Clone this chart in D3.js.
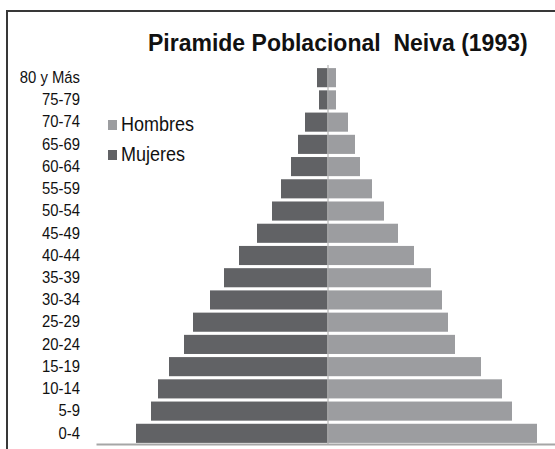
<!DOCTYPE html>
<html>
<head>
<meta charset="utf-8">
<script src="https://cdn.jsdelivr.net/npm/d3@7"></script>
<style>
  body { margin: 0; background: #fff; }
  svg { display: block; font-family: "Liberation Sans", Arial, sans-serif; }
</style>
</head>
<body>
<svg id="chart"></svg>
<script>
// age groups, top to bottom
var ageGroups = ["80 y Más","75-79","70-74","65-69","60-64","55-59","50-54","45-49","40-44",
                 "35-39","30-34","25-29","20-24","15-19","10-14","5-9","0-4"];
// population (persons)
var hombres = [900, 900, 2100, 2800, 3300, 4500, 5700, 7100, 8700,
               10400, 11500, 12100, 12800, 15400, 17500, 18500, 21000];
var mujeres = [1000, 800, 2200, 2900, 3600, 4600, 5500, 7000, 8800,
               10300, 11700, 13400, 14300, 15800, 16900, 17600, 19100];
var seriesNames = ["Hombres", "Mujeres"];
var seriesColors = ["#9c9da0", "#616265"];
var title = "Piramide Poblacional  Neiva (1993)";

var width = 555, height = 449;

var svg = d3.select("#chart")
  .attr("width", width)
  .attr("height", height);

// outer frame (cut off at right and bottom)
svg.append("rect")
  .attr("x", 7).attr("y", 11)
  .attr("width", 700).attr("height", 600)
  .attr("fill", "none")
  .attr("stroke", "#383838")
  .attr("stroke-width", 2);

var data = ageGroups.map(function(g, i){
  return { group: g, h: hombres[i], m: mujeres[i] };
});

var x = d3.scaleLinear()
  .domain([-23100, 22800])
  .range([96, 555]);

var y = d3.scaleBand()
  .domain(ageGroups)
  .range([65, 446])
  .padding(0.14);

// bars
var bars = svg.append("g").attr("class","bars");

bars.selectAll("rect.m")
  .data(data)
  .enter()
  .append("rect")
  .attr("class","m")
  .attr("x", function(d){ return x(-d.m); })
  .attr("y", function(d){ return y(d.group); })
  .attr("width", function(d){ return x(0) - x(-d.m); })
  .attr("height", y.bandwidth())
  .attr("fill", seriesColors[1]);

bars.selectAll("rect.h")
  .data(data)
  .enter()
  .append("rect")
  .attr("class","h")
  .attr("x", x(0))
  .attr("y", function(d){ return y(d.group); })
  .attr("width", function(d){ return x(d.h) - x(0); })
  .attr("height", y.bandwidth())
  .attr("fill", seriesColors[0]);

// vertical centre line
svg.append("line")
  .attr("x1", x(0) + 1).attr("x2", x(0) + 1)
  .attr("y1", y.range()[0]).attr("y2", y.range()[1] - 2)
  .attr("stroke", "#a6a6a6")
  .attr("stroke-width", 1);

// bottom axis line only
var xaxis = d3.axisBottom(x).tickValues([]).tickSizeOuter(0);
svg.append("g")
  .attr("class","axis")
  .attr("transform","translate(0," + 444 + ")")
  .call(xaxis)
  .select(".domain")
  .attr("stroke", "#a6a6a6")
  .attr("stroke-width", 2);

// category labels (slightly condensed like the source)
var yaxis = d3.axisLeft(y).tickSize(0).tickPadding(0);
var yg = svg.append("g")
  .attr("class","axis")
  .attr("transform","translate(80,0) scale(0.9,1)")
  .call(yaxis);
yg.select(".domain").remove();
yg.selectAll("text")
  .attr("font-size", 16.5)
  .attr("font-family", "'Liberation Sans', Arial, sans-serif")
  .attr("fill", "#111");

// legend
var legend = svg.append("g")
  .attr("class","legend")
  .selectAll("g")
  .data(seriesNames)
  .enter()
  .append("g")
  .attr("transform", function(d, i){ return "translate(108," + (120 + i*30) + ")"; });

legend.append("rect")
  .attr("width", 9).attr("height", 10)
  .attr("fill", function(d, i){ return seriesColors[i]; });

legend.append("text")
  .attr("transform", "translate(13,11) scale(0.9,1)")
  .attr("font-size", 20)
  .attr("fill", "#111")
  .text(function(d){ return d; });

// title (keep the double space)
svg.append("text")
  .attr("x", 148)
  .attr("y", 51)
  .attr("font-size", 23)
  .attr("font-weight", "bold")
  .attr("fill", "#111")
  .style("white-space", "pre")
  .text(title);
</script>
</body>
</html>
